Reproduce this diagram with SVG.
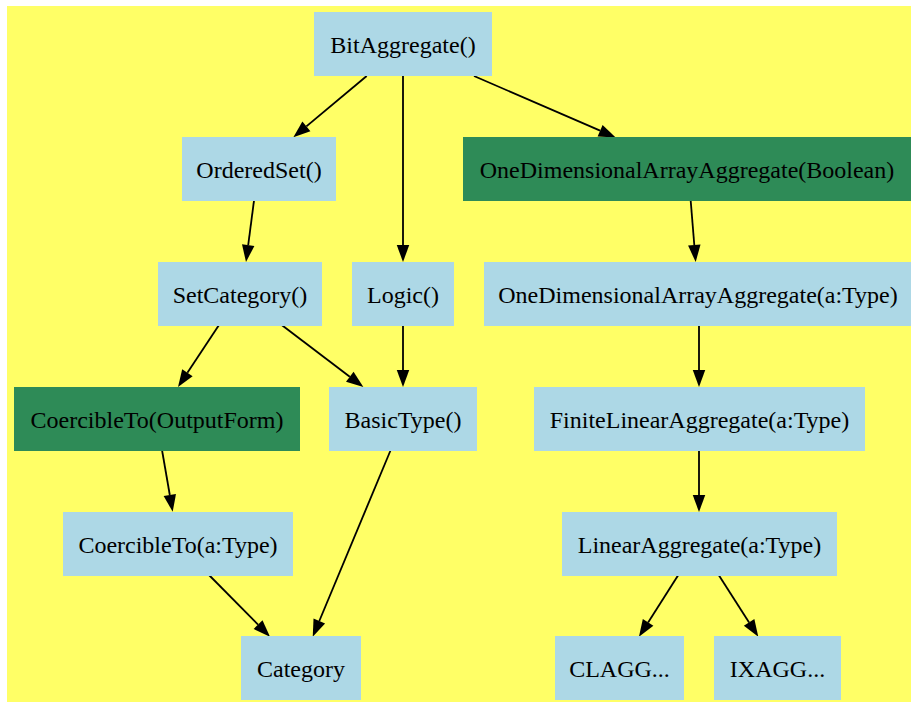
<svg xmlns="http://www.w3.org/2000/svg" width="911" height="702" viewBox="0 0 911 702">
<style>
.n{fill:#add8e6}
.g{fill:#2e8b57}
text{font-family:"Liberation Serif","Times New Roman",serif;font-size:24px;fill:#000;text-anchor:middle}
.e line{stroke:#000;stroke-width:1.8;marker-end:url(#ah)}
</style>
<defs>
<marker id="ah" markerUnits="userSpaceOnUse" markerWidth="18" markerHeight="14" refX="0" refY="7" orient="auto" viewBox="0 0 18 14" overflow="visible">
<path d="M0,0.75 L17,7 L0,13.25 z" fill="#000"/>
</marker>
</defs>
<rect x="7" y="6" width="904" height="696" fill="#ffff66"/>
<g class="e" id="edges">
<line x1="366.7" y1="76" x2="306.4" y2="126.4"/>
<line x1="403" y1="76" x2="403" y2="245"/>
<line x1="474" y1="76" x2="600.1" y2="130.7"/>
<line x1="690.7" y1="200.7" x2="694.3" y2="245.05"/>
<line x1="254" y1="200.7" x2="248.2" y2="245.1"/>
<line x1="219" y1="325" x2="187.4" y2="372.8"/>
<line x1="281.7" y1="325" x2="349.8" y2="376.7"/>
<line x1="403" y1="325" x2="403" y2="370"/>
<line x1="162" y1="450" x2="169.8" y2="495"/>
<line x1="209" y1="575" x2="258.05" y2="624.6"/>
<line x1="390.7" y1="450" x2="319.3" y2="621"/>
<line x1="699" y1="325" x2="699" y2="370"/>
<line x1="699" y1="450" x2="699" y2="495"/>
<line x1="678.3" y1="575" x2="648.1" y2="622.4"/>
<line x1="718.7" y1="575" x2="749.1" y2="622.4"/>
</g>
<g id="BitAggregate"><rect class="n" x="314" y="12" width="178" height="64"/><text x="403" y="53">BitAggregate()</text></g>
<g id="OrderedSet"><rect class="n" x="182" y="137" width="154" height="64"/><text x="259" y="178">OrderedSet()</text></g>
<g id="OneDimBoolean"><rect class="g" x="463" y="137" width="448" height="64"/><text x="687" y="178">OneDimensionalArrayAggregate(Boolean)</text></g>
<g id="SetCategory"><rect class="n" x="158" y="262" width="164" height="64"/><text x="240" y="303">SetCategory()</text></g>
<g id="Logic"><rect class="n" x="352" y="262" width="102" height="64"/><text x="403" y="303">Logic()</text></g>
<g id="OneDimType"><rect class="n" x="484" y="262" width="427" height="64"/><text x="698" y="303">OneDimensionalArrayAggregate(a:Type)</text></g>
<g id="CoercibleToOutputForm"><rect class="g" x="14" y="387" width="286" height="64"/><text x="157" y="428">CoercibleTo(OutputForm)</text></g>
<g id="BasicType"><rect class="n" x="329" y="387" width="148" height="64"/><text x="403" y="428">BasicType()</text></g>
<g id="FiniteLinearAggregate"><rect class="n" x="534" y="387" width="331" height="64"/><text x="699.5" y="428">FiniteLinearAggregate(a:Type)</text></g>
<g id="CoercibleToType"><rect class="n" x="63" y="512" width="230" height="64"/><text x="178" y="553">CoercibleTo(a:Type)</text></g>
<g id="LinearAggregate"><rect class="n" x="562" y="512" width="275" height="64"/><text x="699.5" y="553">LinearAggregate(a:Type)</text></g>
<g id="Category"><rect class="n" x="241" y="636" width="120" height="64"/><text x="301" y="677">Category</text></g>
<g id="CLAGG"><rect class="n" x="555" y="636" width="129" height="64"/><text x="619.5" y="677">CLAGG...</text></g>
<g id="IXAGG"><rect class="n" x="714" y="636" width="127" height="64"/><text x="777.5" y="677">IXAGG...</text></g>
</svg>
